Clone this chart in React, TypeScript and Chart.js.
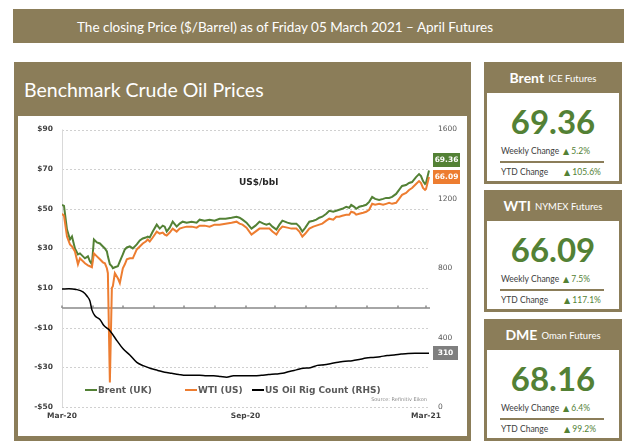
import React, { useEffect, useRef } from "react";
import { Chart, registerables } from "chart.js";
Chart.register(...registerables);

// ---- data (x = days since 1 Mar 2020) ----
const priceDays = [0, 2, 5, 8, 10, 13, 16, 18, 23, 26, 28, 30, 32, 35, 38, 41, 43, 45, 46, 48, 50, 51, 53, 56, 58, 61, 63, 65, 68, 71, 75, 78, 81, 84, 86, 88, 91, 95, 98, 101, 103, 105, 108, 111, 115, 118, 121, 125, 130, 135, 138, 143, 148, 153, 158, 164, 170, 175, 178, 181, 185, 190, 194, 198, 202, 205, 208, 211, 215, 218, 221, 226, 230, 235, 238, 241, 244, 248, 252, 255, 258, 261, 265, 268, 272, 275, 278, 281, 285, 288, 290, 293, 295, 298, 302, 305, 308, 311, 314, 318, 322, 325, 328, 331, 335, 338, 341, 345, 348, 351, 355, 358, 360, 362, 364, 365, 368];
const brentValues = [52, 51.5, 39.5, 34.5, 36, 30, 27, 27.5, 25, 26, 23.5, 22, 34.5, 33, 32.5, 31, 30, 28.5, 26, 22, 21, 20, 20.5, 21, 23.5, 27, 29.5, 30.5, 31, 30, 32, 34, 35, 35.5, 36, 35.5, 38.5, 42, 40, 41.5, 41, 38.5, 40.5, 43.5, 41, 42.5, 43.5, 43, 43.5, 43, 44.5, 44, 44.5, 44, 45, 45, 45.5, 46, 45.5, 44.5, 43, 40, 41.5, 43.5, 42.5, 42, 42.5, 41, 39.5, 42, 44, 43, 42.5, 42.5, 41, 38.5, 40.5, 43.5, 44, 44.5, 45.5, 46, 47.5, 49, 48.5, 49, 49.5, 50, 51, 50.5, 52, 51, 50, 51, 51.5, 52, 53.5, 56, 55, 54.5, 55, 55.5, 55.5, 56, 57.5, 59.5, 61.5, 62, 63, 63.5, 66, 67.5, 66.5, 64, 62.5, 63, 69.36];
const wtiValues = [47.5, 46.5, 36, 32, 31, 28.5, 22, 25, 22.5, 21.5, 21, 20.5, 27.5, 26, 24.5, 23, 22.5, 20, 17.5, -37.6, 10, 11, 17.5, 15, 12.5, 20, 22, 24.5, 25, 25, 29.5, 31, 32.5, 33.5, 34.5, 33.5, 35.5, 38.5, 37.5, 38, 37, 36.5, 38, 40, 38.5, 40, 40.5, 41, 41, 40.5, 41.5, 41.5, 41, 42, 42, 42.5, 43, 43.5, 42.5, 42, 40.5, 37, 38.5, 40, 40, 40, 40, 38.5, 37, 39.5, 41, 40.5, 40, 40, 38.5, 36, 37.5, 40, 41, 41.5, 42, 42.5, 44, 45, 44.5, 46, 46, 46.5, 47, 47, 48.5, 48, 47, 47.5, 48, 48.5, 49.5, 52.5, 52, 52.5, 52, 52.5, 53, 52.5, 53, 55, 57, 58, 59.5, 60.5, 62.5, 64, 63, 60.5, 59.5, 60, 66.09];
const rigDays = [0, 7, 14, 21, 25, 28, 30, 33, 38, 42, 48, 55, 61, 68, 75, 82, 89, 96, 103, 110, 117, 124, 131, 138, 145, 152, 159, 165, 172, 179, 186, 193, 200, 207, 214, 221, 228, 235, 242, 249, 256, 263, 270, 277, 284, 291, 298, 305, 312, 319, 326, 333, 340, 347, 354, 361, 368];
const rigValues = [680, 682, 678, 664, 640, 611, 560, 526, 505, 470, 440, 383, 337, 300, 257, 237, 222, 211, 200, 194, 188, 183, 183, 183, 180, 180, 176, 172, 180, 180, 180, 180, 183, 187, 190, 194, 205, 214, 223, 226, 240, 244, 251, 258, 264, 267, 274, 282, 286, 290, 297, 300, 305, 309, 310, 310, 310];
const seriesLabels = ["Brent (UK)", "WTI (US)", "US Oil Rig Count (RHS)"];
const leftTicks = [-50, -30, -10, 10, 30, 50, 70, 90];
const rightTicks = [0, 400, 800, 1200, 1600];
const xTickDays = [0, 184, 365];
const xTickLabels = ["Mar-20", "Sep-20", "Mar-21"];
const monthDays = [0, 31, 61, 92, 122, 153, 184, 214, 245, 275, 306, 337, 365];

const cardTitles = ["Brent", "WTI", "DME"];
const cardSubs = ["ICE Futures", "NYMEX Futures", "Oman Futures"];
const cardValues = ["69.36", "66.09", "68.16"];
const weeklyChanges = ["5.2%", "7.5%", "6.4%"];
const ytdChanges = ["105.6%", "117.1%", "99.2%"];

const BROWN = "#8B7D59";
const GREEN = "#538135";
const ORANGE = "#ED7D31";
const TXTFONT = "Lato, 'Open Sans', sans-serif";
const CHFONT = "'DejaVu Sans', Verdana, sans-serif";

const overlay = {
  id: "overlay",
  beforeDatasetsDraw(chart: any) {
    const { ctx, chartArea: a, scales } = chart;
    const y = scales.y;
    const x = scales.x;
    ctx.save();
    ctx.strokeStyle = "#D0D0D0";
    ctx.lineWidth = 1;
    ctx.setLineDash([2, 2]);
    leftTicks.forEach((v) => {
      const py = Math.round(y.getPixelForValue(v)) + 0.5;
      ctx.beginPath();
      ctx.moveTo(a.left, py);
      ctx.lineTo(a.right, py);
      ctx.stroke();
    });
    ctx.setLineDash([]);
    ctx.strokeStyle = "#D9D9D9";
    ctx.beginPath();
    ctx.moveTo(a.left + 0.5, a.top);
    ctx.lineTo(a.left + 0.5, a.bottom);
    ctx.stroke();
    const z = Math.round(y.getPixelForValue(0));
    ctx.strokeStyle = "#A6A6A6";
    ctx.lineWidth = 2;
    ctx.beginPath();
    ctx.moveTo(a.left, z);
    ctx.lineTo(a.right, z);
    ctx.stroke();
    ctx.lineWidth = 1.5;
    ctx.strokeStyle = "#8C8C8C";
    monthDays.forEach((d) => {
      const px = Math.round(x.getPixelForValue(d));
      ctx.beginPath();
      ctx.moveTo(px, z - 2.5);
      ctx.lineTo(px, z);
      ctx.stroke();
    });
    ctx.restore();
  },
  afterDatasetsDraw(chart: any) {
    const { ctx, chartArea: a, scales } = chart;
    const y = scales.y;
    const y1 = scales.y1;
    ctx.save();
    const box = (text: string, cy: number, bg: string, w: number) => {
      const h = 14;
      const left = a.right + 3;
      ctx.fillStyle = bg;
      ctx.fillRect(left, Math.round(cy - h / 2), w, h);
      ctx.fillStyle = "#FFFFFF";
      ctx.font = `bold 7.5px ${CHFONT}`;
      ctx.textAlign = "center";
      ctx.textBaseline = "middle";
      ctx.fillText(text, left + w / 2, Math.round(cy) + 0.5);
    };
    const bLast = brentValues[brentValues.length - 1];
    const wLast = wtiValues[wtiValues.length - 1];
    const rLast = rigValues[rigValues.length - 1];
    box(bLast.toFixed(2), y.getPixelForValue(bLast) - 10, GREEN, 27);
    box(wLast.toFixed(2), y.getPixelForValue(wLast), ORANGE, 27);
    box(String(rLast), y1.getPixelForValue(rLast), "#7F7F7F", 25);

    // unit label
    ctx.fillStyle = "#262626";
    ctx.font = `bold 9px ${CHFONT}`;
    ctx.textAlign = "left";
    ctx.textBaseline = "middle";
    ctx.fillText("US$/bbl", a.left + 177, a.top + 53);

    // legend
    const colors = [GREEN, ORANGE, "#000000"];
    const offs = [23, 123, 190];
    const ly = a.bottom - 17;
    seriesLabels.forEach((lab, i) => {
      const lx = a.left + offs[i];
      ctx.strokeStyle = colors[i];
      ctx.lineWidth = 2;
      ctx.beginPath();
      ctx.moveTo(lx, ly);
      ctx.lineTo(lx + 12, ly);
      ctx.stroke();
      ctx.fillStyle = "#595959";
      ctx.font = `bold 9px ${CHFONT}`;
      ctx.textAlign = "left";
      ctx.textBaseline = "middle";
      ctx.fillText(lab, lx + 13, ly + 0.5);
    });

    ctx.fillStyle = "#8C8C8C";
    ctx.font = `5px ${CHFONT}`;
    ctx.textAlign = "right";
    ctx.textBaseline = "middle";
    ctx.fillText("Source: Refinitiv Eikon", a.right - 3, a.bottom - 7);
    ctx.restore();
  },
};

function OilChart() {
  const ref = useRef<HTMLCanvasElement>(null);
  useEffect(() => {
    if (!ref.current) return;
    const tickFont = { family: CHFONT, size: 7.5, weight: "bold" as const };
    const chart = new Chart(ref.current, {
      type: "line",
      data: {
        datasets: [
          {
            label: seriesLabels[0],
            data: priceDays.map((d, i) => ({ x: d, y: brentValues[i] })),
            borderColor: GREEN,
            borderWidth: 2,
            yAxisID: "y",
            order: 3,
          },
          {
            label: seriesLabels[1],
            data: priceDays.map((d, i) => ({ x: d, y: wtiValues[i] })),
            borderColor: ORANGE,
            borderWidth: 2,
            yAxisID: "y",
            order: 2,
          },
          {
            label: seriesLabels[2],
            data: rigDays.map((d, i) => ({ x: d, y: rigValues[i] })),
            borderColor: "#000000",
            borderWidth: 1.5,
            yAxisID: "y1",
            order: 1,
            cubicInterpolationMode: "monotone",
            tension: 0.4,
          },
        ],
      },
      options: {
        responsive: false,
        animation: false,
        devicePixelRatio: 1,
        layout: { padding: { top: 10, left: 0, right: 0, bottom: 0 } },
        plugins: { legend: { display: false }, tooltip: { enabled: false } },
        elements: { point: { radius: 0 }, line: { tension: 0 } },
        scales: {
          x: {
            type: "linear",
            min: 0,
            max: 369,
            grid: { display: false, drawTicks: false },
            border: { display: false },
            afterBuildTicks: (s: any) => {
              s.ticks = xTickDays.map((v) => ({ value: v }));
            },
            afterFit: (s: any) => {
              s.height = 29;
            },
            ticks: {
              autoSkip: false,
              maxRotation: 0,
              padding: 5,
              font: tickFont,
              color: "#404040",
              callback: (_v: any, i: number) => xTickLabels[i],
            },
          },
          y: {
            position: "left",
            min: -50,
            max: 90,
            grid: { display: false, drawTicks: false },
            border: { display: false },
            afterBuildTicks: (s: any) => {
              s.ticks = leftTicks.map((v) => ({ value: v }));
            },
            afterFit: (s: any) => {
              s.width = 44;
            },
            ticks: {
              padding: 9,
              font: tickFont,
              color: "#404040",
              callback: (v: any) => (Number(v) < 0 ? "-$" + Math.abs(Number(v)) : "$" + v),
            },
          },
          y1: {
            position: "right",
            min: 0,
            max: 1600,
            grid: { display: false, drawTicks: false },
            border: { display: false },
            afterBuildTicks: (s: any) => {
              s.ticks = rightTicks.map((v) => ({ value: v }));
            },
            afterFit: (s: any) => {
              s.width = 37;
            },
            ticks: {
              padding: 8,
              font: { family: CHFONT, size: 7.5 },
              color: "#595959",
              callback: (v: any) => String(v),
            },
          },
        },
      } as any,
      plugins: [overlay],
    });
    return () => chart.destroy();
  }, []);
  return <canvas ref={ref} width={449} height={320} style={{ display: "block" }} />;
}

function Card({ i, top }: { i: number; top: number }) {
  const arrowStyle = { fontFamily: CHFONT, fontSize: 8 };
  return (
    <div style={{ position: "absolute", left: 484, top, width: 138, height: 122, background: BROWN }}>
      <div
        style={{
          position: "absolute",
          left: 0,
          top: 0,
          width: 138,
          height: 31,
          display: "flex",
          alignItems: "center",
          justifyContent: "center",
          color: "#FFFFFF",
          whiteSpace: "nowrap",
        }}
      >
        <span style={{ fontWeight: 700, fontSize: 14 }}>{cardTitles[i]}</span>
        <span style={{ fontSize: 9.5, marginLeft: 4, marginTop: 2 }}>{cardSubs[i]}</span>
      </div>
      <div style={{ position: "absolute", left: 3, top: 31, width: 132, height: 88, background: "#FFFFFF" }}>
        <div
          style={{
            position: "absolute",
            left: 0,
            top: 8,
            width: 132,
            height: 40,
            lineHeight: "40px",
            textAlign: "center",
            fontSize: 33,
            fontWeight: 700,
            color: GREEN,
          }}
        >
          {cardValues[i]}
        </div>
        <div style={{ position: "absolute", left: 14, top: 52, height: 12, lineHeight: "12px", fontSize: 8.5, color: "#404040", whiteSpace: "nowrap" }}>
          Weekly Change
        </div>
        <div style={{ position: "absolute", left: 76, top: 52, height: 12, lineHeight: "12px", fontSize: 8.5, color: GREEN, whiteSpace: "nowrap" }}>
          <span style={arrowStyle}>▲</span>{" " + weeklyChanges[i]}
        </div>
        <div style={{ position: "absolute", left: 13, top: 68, width: 104, height: 2, background: BROWN }} />
        <div style={{ position: "absolute", left: 14, top: 73, height: 12, lineHeight: "12px", fontSize: 8.5, color: "#404040", whiteSpace: "nowrap" }}>
          YTD Change
        </div>
        <div style={{ position: "absolute", left: 77, top: 73, height: 12, lineHeight: "12px", fontSize: 8.5, color: GREEN, whiteSpace: "nowrap" }}>
          <span style={arrowStyle}>▲</span>{" " + ytdChanges[i]}
        </div>
      </div>
    </div>
  );
}

export default function App() {
  return (
    <div style={{ position: "absolute", left: 0, top: 0, width: 639, height: 448, background: "#FFFFFF", fontFamily: TXTFONT, overflow: "hidden" }}>
      <div style={{ position: "absolute", left: 13, top: 9, width: 611, height: 34, background: BROWN }}>
        <div style={{ position: "absolute", left: 64, top: 1, height: 34, lineHeight: "34px", fontSize: 13.5, color: "#FFFFFF", whiteSpace: "nowrap" }}>
          The closing Price ($/Barrel) as of Friday 05 March 2021 – April Futures
        </div>
      </div>
      <div style={{ position: "absolute", left: 14, top: 62, width: 457, height: 379, background: BROWN }}>
        <div style={{ position: "absolute", left: 10, top: 16, height: 24, lineHeight: "24px", fontSize: 19.5, color: "#FFFFFF", whiteSpace: "nowrap" }}>
          Benchmark Crude Oil Prices
        </div>
        <div style={{ position: "absolute", left: 4, top: 54, width: 449, height: 320, background: "#FFFFFF" }}>
          <OilChart />
        </div>
      </div>
      <Card i={0} top={62} />
      <Card i={1} top={190} />
      <Card i={2} top={319} />
    </div>
  );
}
